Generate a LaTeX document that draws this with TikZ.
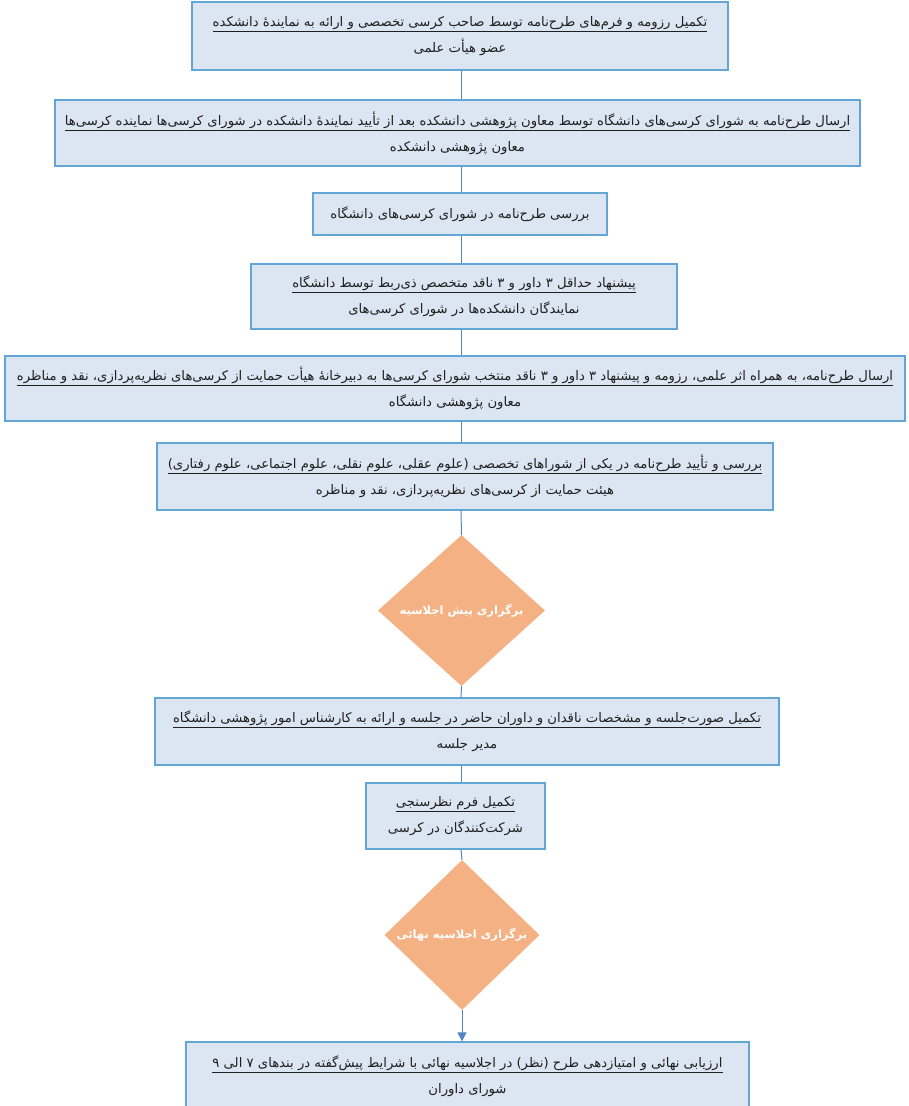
\documentclass[tikz,border=0pt]{standalone}
\usepackage{fontspec}
\usetikzlibrary{shapes.geometric,arrows.meta}
\newfontfamily\fa[Script=Arabic]{DejaVu Sans}
\TeXXeTstate=1
\definecolor{boxfill}{HTML}{DCE6F2}
\definecolor{boxline}{HTML}{62A6D6}
\definecolor{linkblue}{HTML}{4F86C6}
\definecolor{decfill}{HTML}{F4B183}
\definecolor{ink}{HTML}{1F1F1F}
\newcommand\rl[1]{\beginR #1\endR}
\newcommand\ulrl[1]{\underline{\beginR #1\endR}}
\tikzset{
  stepbox/.style={draw=boxline, fill=boxfill, line width=1.3pt, align=center,
    inner sep=0pt, text=ink, font=\fa\fontsize{13.2}{26}\selectfont},
  decision/.style={diamond, fill=decfill, draw=none, inner sep=0pt,
    minimum width=167pt, minimum height=151pt, text=white,
    font=\fa\bfseries\fontsize{11.5}{13}\selectfont},
  link/.style={draw=linkblue, line width=1pt},
  tiplink/.style={link, -{Triangle[length=9pt,width=9pt]}}
}
\begin{document}
\begin{tikzpicture}[x=1pt,y=-1pt]
\path[use as bounding box] (0,0) rectangle (909,1106);
\coordinate (sp) at (461,0);

\node[stepbox, minimum width=536pt, minimum height=68pt] (b1) at (460,36)
  {\ulrl{تکمیل رزومه و فرم‌های طرح‌نامه توسط صاحب کرسی تخصصی و ارائه به نمایندهٔ دانشکده}\\
   \rl{عضو هیأت علمی}};

\node[stepbox, minimum width=805pt, minimum height=66pt] (b2) at (457.5,133)
  {\ulrl{ارسال طرح‌نامه به شورای کرسی‌های دانشگاه توسط معاون پژوهشی دانشکده بعد از تأیید نمایندهٔ دانشکده در شورای کرسی‌ها نماینده کرسی‌ها}\\
   \rl{معاون پژوهشی دانشکده}};

\node[stepbox, minimum width=294pt, minimum height=42pt] (b3) at (460,214)
  {\rl{بررسی طرح‌نامه در شورای کرسی‌های دانشگاه}};

\node[stepbox, minimum width=426pt, minimum height=65pt] (b4) at (464,296.5)
  {\ulrl{پیشنهاد حداقل ۳ داور و ۳ ناقد متخصص ذی‌ربط توسط دانشگاه}\\
   \rl{نمایندگان دانشکده‌ها در شورای کرسی‌های}};

\node[stepbox, minimum width=900pt, minimum height=65pt] (b5) at (455,388.5)
  {\ulrl{ارسال طرح‌نامه، به همراه اثر علمی، رزومه و پیشنهاد ۳ داور و ۳ ناقد منتخب شورای کرسی‌ها به دبیرخانهٔ هیأت حمایت از کرسی‌های نظریه‌پردازی، نقد و مناظره}\\
   \rl{معاون پژوهشی دانشگاه}};

\node[stepbox, minimum width=616pt, minimum height=67pt] (b6) at (465,476.5)
  {\ulrl{بررسی و تأیید طرح‌نامه در یکی از شوراهای تخصصی (علوم عقلی، علوم نقلی، علوم اجتماعی، علوم رفتاری)}\\
   \rl{هیئت حمایت از کرسی‌های نظریه‌پردازی، نقد و مناظره}};

\node[decision] (d1) at (461.5,610.5) {\rl{برگزاری پیش اجلاسیه}};

\node[stepbox, minimum width=624pt, minimum height=67pt] (b7) at (467,731.5)
  {\ulrl{تکمیل صورت‌جلسه و مشخصات ناقدان و داوران حاضر در جلسه و ارائه به کارشناس امور پژوهشی دانشگاه}\\
   \rl{مدیر جلسه}};

\node[stepbox, minimum width=179pt, minimum height=66pt] (b8) at (455.5,816)
  {\ulrl{تکمیل فرم نظرسنجی}\\
   \rl{شرکت‌کنندگان در کرسی}};

\node[decision, minimum width=155pt, minimum height=150pt] (d2) at (462,935) {\rl{برگزاری اجلاسیه نهائی}};

\node[stepbox, minimum width=563pt, minimum height=68pt] (b9) at (467.5,1076)
  {\ulrl{ارزیابی نهائی و امتیازدهی طرح (نظر) در اجلاسیه نهائی با شرایط پیش‌گفته در بندهای ۷ الی ۹}\\
   \rl{شورای داوران}};

% vertical spine joining the steps
\draw[link] (b1.south -| sp) -- (b2.north -| sp);
\draw[link] (b2.south -| sp) -- (b3.north -| sp);
\draw[link] (b3.south -| sp) -- (b4.north -| sp);
\draw[link] (b4.south -| sp) -- (b5.north -| sp);
\draw[link] (b5.south -| sp) -- (b6.north -| sp);
\draw[link] (b6.south -| sp) -- (d1.north);
\draw[link] (d1.south) -- (b7.north -| sp);
\draw[link] (b7.south -| sp) -- (b8.north -| sp);
\draw[link] (b8.south -| sp) -- (d2.north);
\draw[tiplink] (d2.south) -- (b9.north -| d2.south);
\end{tikzpicture}
\end{document}
